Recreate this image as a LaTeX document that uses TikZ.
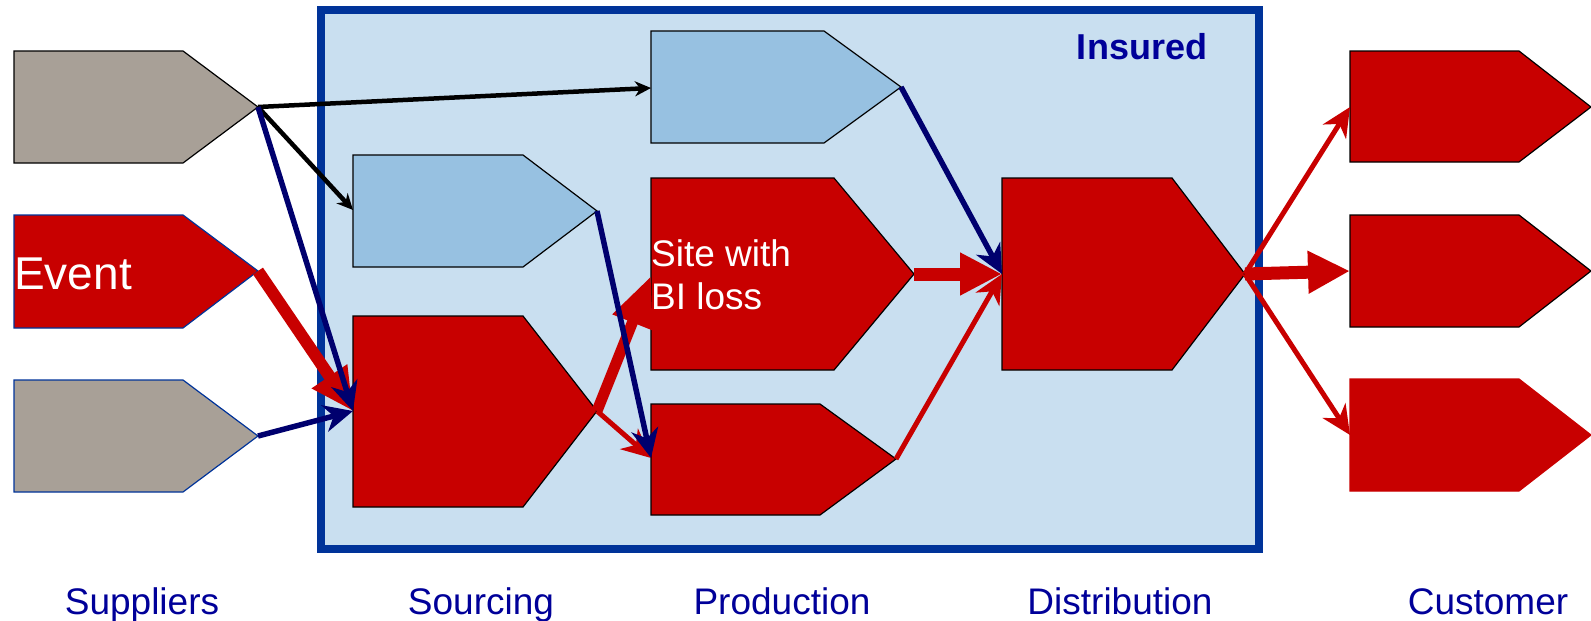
\documentclass[tikz,border=0pt]{standalone}
\usepackage{fontspec}
\setmainfont{Liberation Sans}
\usetikzlibrary{arrows.meta}

\definecolor{bizred}{RGB}{200,0,0}
\definecolor{supgrey}{RGB}{168,160,151}
\definecolor{siteblue}{RGB}{151,193,225}
\definecolor{insuredbg}{RGB}{201,223,240}
\definecolor{insuredline}{RGB}{0,51,153}
\definecolor{flownavy}{RGB}{0,0,110}
\definecolor{labelnavy}{RGB}{0,0,153}

\tikzset{
	greybox/.style={fill=supgrey, draw=black, line width=1.2pt},
	bluebox/.style={fill=siteblue, draw=black, line width=1.2pt},
	redbox/.style={fill=bizred, draw=black, line width=1.2pt},
	blk/.style={black, line width=4.5pt, -{Stealth[length=16pt,width=15pt,inset=5pt]}},
	navyflow/.style={flownavy, line width=5.5pt, -{Stealth[length=29pt,width=27pt,inset=9pt]}},
	redthin/.style={bizred, line width=5pt, -{Stealth[length=29pt,width=27pt,inset=9pt]}},
	redthick/.style={bizred, line width=13pt, -{Triangle[length=42pt,width=40pt]}},
	stage/.style={labelnavy, font=\fontsize{37}{43}\selectfont, anchor=base, inner sep=0pt}
}

\begin{document}
\begin{tikzpicture}[x=1pt,y=-1pt]
			\useasboundingbox (0,0) rectangle (1591,621);
			
			% insured frame
			\draw[fill=insuredbg, draw=insuredline, line width=8pt] (321,10) rectangle (1259,549);
			\node[labelnavy, font=\fontsize{36}{43}\selectfont\bfseries, anchor=base, inner sep=0pt] (ins) at (1142,59) {Insured};
			
			% suppliers
			\filldraw[greybox] (14,51) -- (183,51) -- (258,107) -- (183,163) -- (14,163) -- cycle;
			\filldraw[redbox, draw=insuredline] (14,215) -- (183,215) -- (258,271) -- (183,328) -- (14,328) -- cycle;
			\filldraw[greybox, draw=insuredline] (14,380) -- (183,380) -- (258,436) -- (183,492) -- (14,492) -- cycle;
			\coordinate (S1') at (258,107);
			\coordinate (S2') at (258,271);
			\coordinate (S3') at (258,436);
			\node[white, font=\fontsize{46}{52}\selectfont, anchor=base west, inner sep=0pt] (evt) at (14,289) {Event};
			
			% sourcing
			\filldraw[bluebox] (353,155) -- (523,155) -- (597,211) -- (523,267) -- (353,267) -- cycle;
			\filldraw[redbox] (353,316) -- (523,316) -- (597,411) -- (523,507) -- (353,507) -- cycle;
			\coordinate (R1) at (353,210);
			\coordinate (R1') at (597,211);
			\coordinate (R2) at (353,411);
			\coordinate (R2') at (597,411);
			
			% production
			\filldraw[bluebox] (651,31) -- (824,31) -- (901,87) -- (824,143) -- (651,143) -- cycle;
			\filldraw[redbox] (651,178) -- (834,178) -- (914,274) -- (834,370) -- (651,370) -- cycle;
			\filldraw[redbox] (651,404) -- (820,404) -- (896,459) -- (820,515) -- (651,515) -- cycle;
			\coordinate (P1) at (651,88);
			\coordinate (P1') at (901,87);
			\coordinate (P2) at (651,276);
			\coordinate (P2') at (914,274);
			\coordinate (P3) at (651,458);
			\coordinate (P3') at (896,459);
			
			% distribution
			\filldraw[redbox] (1002,178) -- (1172,178) -- (1245,274) -- (1172,370) -- (1002,370) -- cycle;
			\coordinate (D) at (1002,274);
			\coordinate (D') at (1245,274);
			
			% customers
			\filldraw[redbox] (1350,51) -- (1519,51) -- (1591,107) -- (1519,162) -- (1350,162) -- cycle;
			\filldraw[redbox] (1350,215) -- (1519,215) -- (1591,271) -- (1519,327) -- (1350,327) -- cycle;
			\filldraw[redbox, draw=bizred] (1350,379) -- (1519,379) -- (1591,435) -- (1519,491) -- (1350,491) -- cycle;
			\coordinate (C1) at (1350,107);
			\coordinate (C2) at (1350,271);
			\coordinate (C3) at (1350,435);
			
			% flows
			\draw[blk] (S1') -- (P1);
			\draw[blk] (S1') -- (R1);
			\draw[redthick, line width=12pt] (S2') -- (R2);
			\draw[navyflow] (S1') -- (R2);
			\draw[navyflow] (S3') -- (R2);
			\draw[redthick, line width=11pt, -{Triangle[length=50pt,width=40pt]}] (R2') -- (P2);
			\draw[redthin] (R2') -- (P3);
			\draw[navyflow] (R1') -- (P3);
			\draw[navyflow] (P1') -- (D);
			\draw[redthick] (P2') -- (D);
			\draw[redthin] (P3') -- (D);
			\draw[redthin] (D') -- (C1);
			\draw[redthick] (D') -- (C2);
			\draw[redthin] (D') -- (C3);
			
			\node[white, font=\fontsize{37}{43}\selectfont, anchor=base west, align=left, inner sep=0pt] (site) at (651,309) {Site with\\BI loss};
			
			% stages
			\node[stage] (sup) at (142,614) {Suppliers};
			\node[stage] (src) at (481,614) {Sourcing};
			\node[stage] (prd) at (782,614) {Production};
			\node[stage] (dst) at (1120,614) {Distribution};
			\node[stage] (cst) at (1488,614) {Customer};
			
		\end{tikzpicture}
\end{document}
